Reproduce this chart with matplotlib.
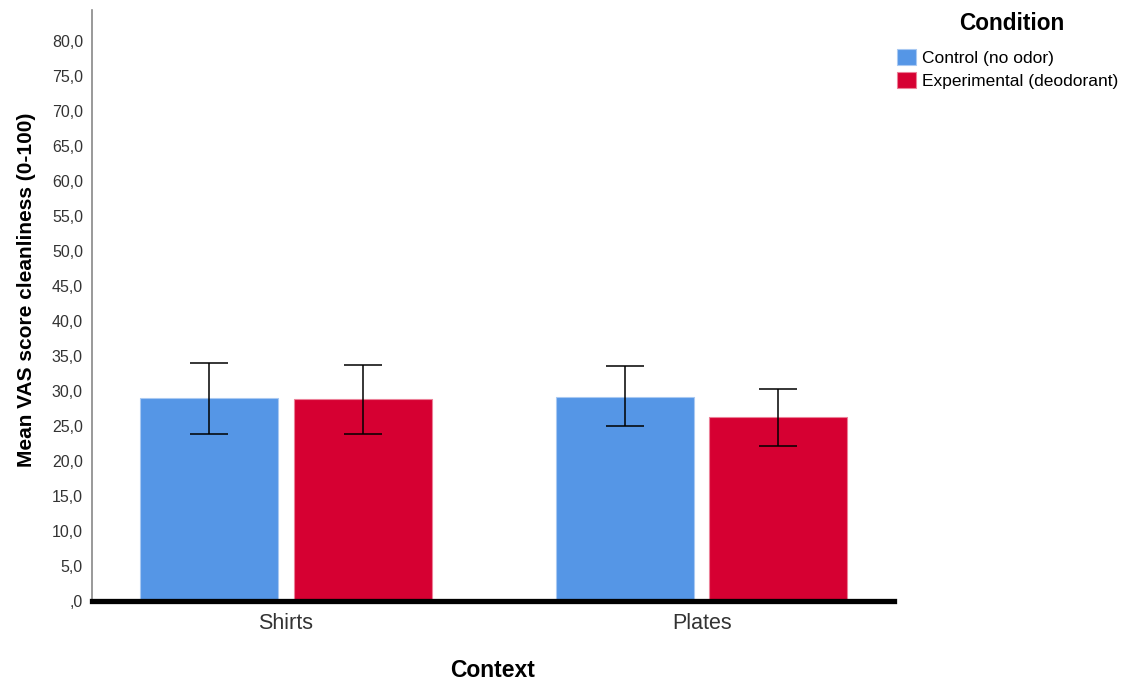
import numpy as np
import matplotlib
matplotlib.use("Agg")
from matplotlib import pyplot as plt
from matplotlib.ticker import FuncFormatter

plt.rcParams['font.family'] = ['Liberation Sans', 'DejaVu Sans']

# data
contexts = ['Shirts', 'Plates']
conditions = ['Control (no odor)', 'Experimental (deodorant)']
control_mean = [29.0, 29.2]
control_lo = [23.8, 25.0]
control_hi = [34.0, 33.5]
exp_mean = [28.8, 26.3]
exp_lo = [23.8, 22.1]
exp_hi = [33.7, 30.3]

colors = ['#5596E6', '#D60032']
edges = ['#A9C9F2', '#EC8098']

fig = plt.figure(figsize=(11.38, 6.81), dpi=100)
ax = fig.add_axes([0.0808, 0.1175, 0.7048, 0.8678])

x = np.arange(len(contexts))
off = 0.1847
w = 0.332

series = [(control_mean, control_lo, control_hi), (exp_mean, exp_lo, exp_hi)]
for i, (m, lo, hi) in enumerate(series):
    m = np.array(m); lo = np.array(lo); hi = np.array(hi)
    pos = x + (i * 2 - 1) * off
    ax.bar(pos, m, width=w, color=colors[i], edgecolor=edges[i], linewidth=0.8,
           label=conditions[i], zorder=2)
    ax.errorbar(pos, m, yerr=[m - lo, hi - m], fmt='none', ecolor='black',
                elinewidth=1.1, capsize=14, capthick=1.1, zorder=3)

ax.set_xlim(-0.467, 1.463)
ax.set_ylim(0, 84.4)
ax.set_yticks(np.arange(0, 81, 5))

def fmt(v, pos):
    s = f"{v:.1f}".replace('.', ',')
    return ',0' if v == 0 else s

ax.yaxis.set_major_formatter(FuncFormatter(fmt))
ax.set_xticks(x)
ax.set_xticklabels(contexts, fontsize=15.5, color='#333333')
ax.tick_params(axis='y', length=0, labelsize=11.5, labelcolor='#333333', pad=6.5)
ax.tick_params(axis='x', length=0, pad=9)

for s in ['top', 'right']:
    ax.spines[s].set_visible(False)
ax.spines['left'].set_color('#888888')
ax.spines['left'].set_linewidth(1.2)
ax.spines['bottom'].set_color('black')
ax.spines['bottom'].set_linewidth(3.8)
ax.spines['bottom'].set_zorder(4)

ax.set_ylabel('Mean VAS score cleanliness (0-100)', fontsize=15, fontweight='bold')
ax.yaxis.set_label_coords(-0.070, 0.526)
ax.set_xlabel('Context', fontsize=16.5, fontweight='bold')
ax.xaxis.set_label_coords(0.5, -0.099)

# legend title drawn separately so the gap to the entries matches
fig.text(1012 / 1138, 1 - 23 / 681, 'Condition', ha='center', va='center',
         fontsize=16.3, fontweight='bold')
leg = fig.legend(loc='upper left', bbox_to_anchor=(0.781, 0.9405), frameon=False,
                 borderpad=0, fontsize=12.5, handlelength=1.04,
                 handleheight=0.98, handletextpad=0.35, labelspacing=0.38)

fig.savefig('out.png', dpi=100)
